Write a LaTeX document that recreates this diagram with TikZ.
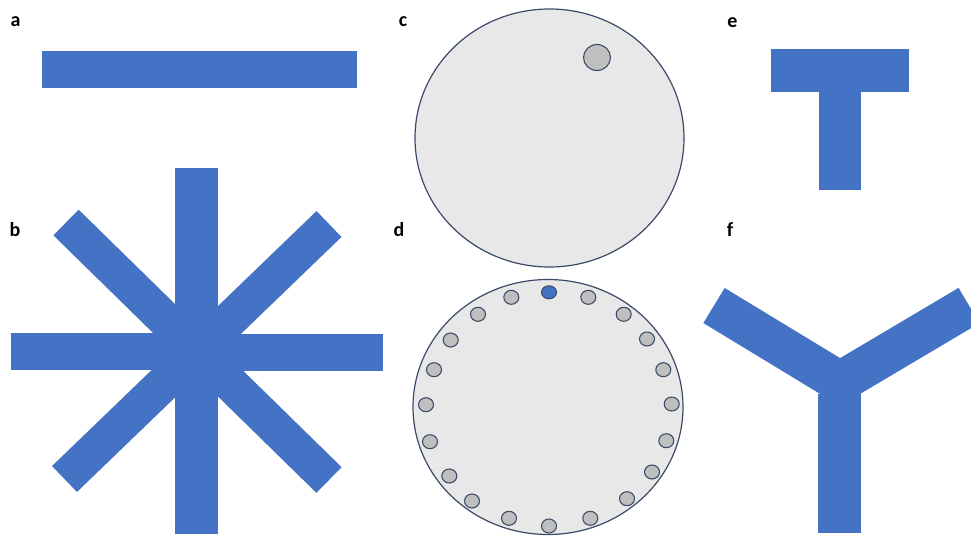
\documentclass[tikz,border=0pt]{standalone}
\usepackage{fontspec}
\setmainfont{Carlito}
\definecolor{bblue}{HTML}{4472C4}
\definecolor{cfill}{HTML}{E8E8E8}
\definecolor{cline}{HTML}{3A4A68}
\definecolor{dotg}{HTML}{BFBFBF}
\tikzset{
  lbl/.style={anchor=base,inner sep=0pt,font=\fontsize{15}{18}\selectfont\bfseries},
  bar/.style={draw=bblue,line width=#1*0.75pt,line cap=butt},
  disc/.style={fill=cfill,draw=cline,line width=0.9pt},
  dot/.style={fill=dotg,draw=cline,line width=0.8pt}
}
\begin{document}
\begin{tikzpicture}[x=0.75pt,y=-0.75pt]
\useasboundingbox (0,0) rectangle (971,536);
\begin{scope}
\clip (0,0) rectangle (971,536);
% labels
\node[lbl] (la) at (15.5,26) {a};
\node[lbl] (lb) at (15,236) {b};
\node[lbl] (lc) at (403,26) {c};
\node[lbl] (ld) at (399,236) {d};
\node[lbl] (le) at (732.5,27) {e};
\node[lbl] (lf) at (730,236) {f};
% a
\fill[bblue] (42,51) rectangle (357,88);
% b
\draw[bar=43] (196.5,168) -- (196.5,534);
\draw[bar=37] (11,351.5) -- (196.5,351.5);
\draw[bar=37] (196.5,352.5) -- (383,352.5);
\draw[bar=36] (66,222.5) -- (329,480);
\draw[bar=36] (329,224) -- (64.5,479);
% c
\draw[disc] (549.5,138) ellipse [x radius=134.5, y radius=129];
\draw[dot] (597,57.5) ellipse [x radius=13.5, y radius=13];
% d
\draw[disc] (548,407) ellipse [x radius=135, y radius=127.5];
\foreach \px/\py in {511.3/297.3, 588.3/297.3, 478/314.3, 623.7/314.3,
  450.7/340, 647/339, 434/369.7, 663.3/369.7, 426/404.7, 671.7/404,
  430/441.7, 666.3/440.7, 449.3/476, 652/472, 472/501, 627/498.7,
  509/518.3, 590.3/518.3, 549/526}
  \draw[dot] (\px,\py) ellipse [x radius=7.5, y radius=7];
\draw[dot,fill=bblue] (549,292.3) ellipse [x radius=7.5, y radius=6.5];
% e
\fill[bblue] (771,49) rectangle (909,92);
\fill[bblue] (819,91) rectangle (861,190);
% f
\fill[bblue] (818,394) rectangle (861,533);
\draw[bar=41,line join=miter] (714,305.5) -- (840,382) -- (969,305.5);
\end{scope}
\end{tikzpicture}
\end{document}
